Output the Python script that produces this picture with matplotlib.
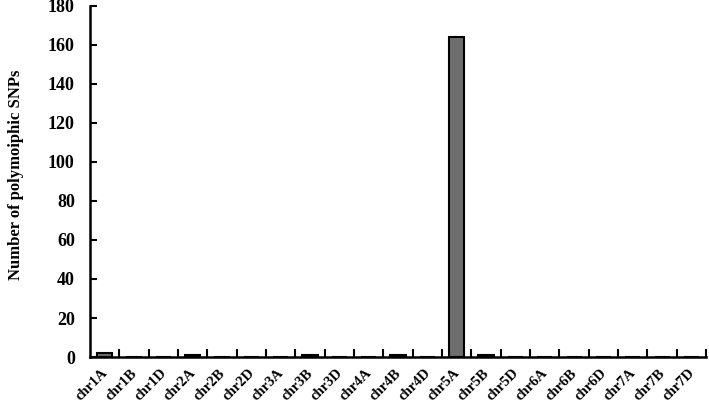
import numpy as np
import matplotlib.pyplot as plt

chroms = ['chr1A', 'chr1B', 'chr1D', 'chr2A', 'chr2B', 'chr2D', 'chr3A',
          'chr3B', 'chr3D', 'chr4A', 'chr4B', 'chr4D', 'chr5A', 'chr5B',
          'chr5D', 'chr6A', 'chr6B', 'chr6D', 'chr7A', 'chr7B', 'chr7D']
snps = [2, 0, 0, 1, 0, 0, 0, 1, 0, 0, 1, 0, 164, 1, 0, 0, 0, 0, 0, 0, 0]
yticks = [0, 20, 40, 60, 80, 100, 120, 140, 160, 180]

plt.rcParams['font.family'] = ['Liberation Serif', 'DejaVu Serif']
plt.rcParams['font.weight'] = 'bold'

fig = plt.figure(figsize=(7.09, 4.04), dpi=100)
ax = fig.add_axes([0.127, 0.1163, 0.869, 0.869])

x = np.arange(len(chroms))
ax.bar(x, snps, width=0.52, color='#6e6e6e', edgecolor='black', linewidth=1.5)

ax.set_xlim(-0.5, len(chroms) - 0.5)
ax.set_ylim(0, 180)
ax.set_yticks(yticks)
ax.tick_params(axis='y', direction='in', length=5, width=1.5, labelsize=13, pad=11)

# category boundaries get ticks, labels sit at the centres
ax.set_xticks(x + 0.5)
ax.set_xticklabels([])
ax.tick_params(axis='x', direction='in', length=6, width=1.5)
ax.set_xticks(x - 0.12, minor=True)
ax.set_xticklabels(chroms, minor=True, rotation=45, ha='right', va='top',
                   rotation_mode='anchor', fontsize=10.5, fontweight='bold')
ax.tick_params(axis='x', which='minor', length=0, pad=7)

for s in ['top', 'right']:
    ax.spines[s].set_visible(False)
for s in ['left', 'bottom']:
    ax.spines[s].set_linewidth(1.8)

ax.set_ylabel('Number of polymoiphic SNPs', fontsize=12, fontweight='bold')
ax.yaxis.set_label_coords(-0.108, 0.518)

fig.savefig('out.png', dpi=100)
